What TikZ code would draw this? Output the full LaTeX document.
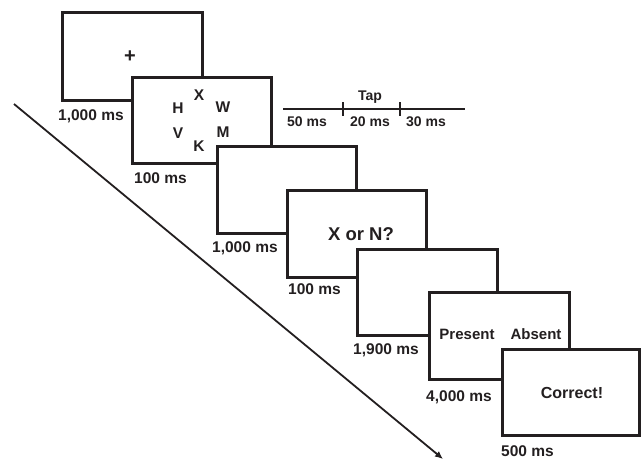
\documentclass[tikz,border=0pt]{standalone}
\usepackage{fontspec}
\setmainfont{Liberation Sans}
\usetikzlibrary{arrows.meta}
\definecolor{ink}{HTML}{231F20}
\tikzset{
  screen/.style={draw=ink, line width=3pt, fill=white},
  lbl/.style={anchor=west, inner sep=0pt, text=ink, font=\bfseries\fontsize{15.5}{16}\selectfont},
  stim/.style={inner sep=0pt, text=ink, font=\bfseries\fontsize{15.5}{16}\selectfont},
  tl/.style={inner sep=0pt, text=ink, font=\bfseries\fontsize{14}{15}\selectfont},
}
\begin{document}
\begin{tikzpicture}[x=1pt,y=-1pt]
\useasboundingbox (0,0) rectangle (642,460);
% diagonal time arrow
\coordinate (a0) at (14,104);
\coordinate (a1) at (443,459);
\draw[ink, line width=1.8pt, -{Latex[length=8pt,width=7pt]}] (a0) -- (a1);
% screens
\draw[screen] (62,13) rectangle (202,100);
\node[stim, font=\bfseries\fontsize{20}{20}\selectfont] (plus) at (130,57) {+};
\node[lbl] (l1) at (58,116) {1,000 ms};

\draw[screen] (132,77) rectangle (271,163);
\node[stim] (sX) at (199,95) {X};
\node[stim] (sH) at (178,108) {H};
\node[stim] (sW) at (223,107) {W};
\node[stim] (sV) at (178,133) {V};
\node[stim] (sM) at (223,132) {M};
\node[stim] (sK) at (199,146) {K};
\node[lbl] (l2) at (134,178) {100 ms};

\draw[screen] (217,146) rectangle (356,233);
\node[lbl] (l3) at (212,248) {1,000 ms};

\draw[screen] (287,190) rectangle (426,277);
\node[stim, font=\bfseries\fontsize{18.5}{19}\selectfont] (q) at (361,234) {X or N?};
\node[lbl] (l4) at (288,289) {100 ms};

\draw[screen] (357,249) rectangle (497,335);
\node[lbl] (l5) at (353,350) {1,900 ms};

\draw[screen] (429,292) rectangle (569,379);
\node[stim, font=\bfseries\fontsize{15}{16}\selectfont] (pr) at (467,334) {Present};
\node[stim, font=\bfseries\fontsize{15}{16}\selectfont] (ab) at (536,334) {Absent};
\node[lbl] (l6) at (426,397) {4,000 ms};

\draw[screen] (502,349) rectangle (639,435);
\node[stim, font=\bfseries\fontsize{16}{16}\selectfont] (c) at (572,393) {Correct!};
\node[lbl] (l7) at (501,451) {500 ms};

% timeline
\coordinate (t0) at (283,109);
\coordinate (t1) at (465,109);
\draw[ink, line width=2.4pt] (t0) -- (t1);
\coordinate (k1a) at (343,102); \coordinate (k1b) at (343,116);
\coordinate (k2a) at (400,102); \coordinate (k2b) at (400,116);
\draw[ink, line width=2.4pt] (k1a) -- (k1b);
\draw[ink, line width=2.4pt] (k2a) -- (k2b);
\node[tl] (tap) at (370,97) {Tap};
\node[tl] (d1) at (307,122) {50 ms};
\node[tl] (d2) at (370,122) {20 ms};
\node[tl] (d3) at (426,122) {30 ms};
\end{tikzpicture}
\end{document}
